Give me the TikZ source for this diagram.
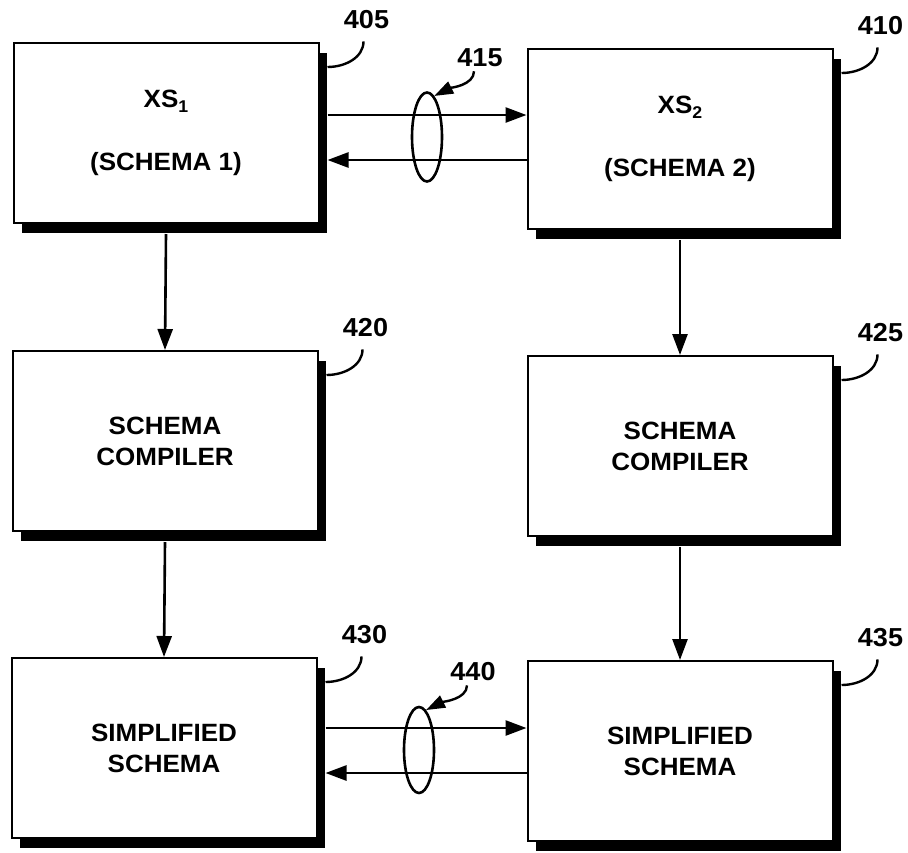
\documentclass[tikz,border=0pt]{standalone}
\usepackage{fontspec}
\setmainfont{Liberation Sans}[FakeStretch=1.04]
\usetikzlibrary{arrows.meta,shapes.geometric,shadows}
\begin{document}
\begin{tikzpicture}[x=1pt,y=-1pt,
  box/.style={draw, line width=2pt, fill=white, minimum width=305pt, minimum height=180pt,
    inner sep=0pt, align=center, font=\fontsize{25}{31}\selectfont\bfseries,
    drop shadow={shadow xshift=8pt, shadow yshift=-10pt, fill=black, opacity=1}},
  lab/.style={inner sep=0pt, font=\fontsize{26}{26}\selectfont\bfseries},
  conn/.style={line width=2.6pt, -{Triangle[length=21pt,width=15pt]}},
  leadarr/.style={line width=2.4pt, -{Triangle[length=19pt,width=13pt]}},
  lead/.style={line width=2.4pt},
  ring/.style={draw, ellipse, line width=2.6pt, inner sep=0pt, minimum width=30pt}]
\fill[white] (0,0) rectangle (908,852);
\useasboundingbox (0,0) rectangle (908,852);

% boxes
\node[box] (b405) at (166,133) {XS\raisebox{-5pt}{\fontsize{17}{17}\selectfont 1}\\[32pt](SCHEMA 1)};
\node[box] (b410) at (680,139) {XS\raisebox{-5pt}{\fontsize{17}{17}\selectfont 2}\\[32pt](SCHEMA 2)};
\node[box] (b420) at (165,441) {SCHEMA\\COMPILER};
\node[box] (b425) at (680,446) {SCHEMA\\COMPILER};
\node[box] (b430) at (164,748) {SIMPLIFIED\\SCHEMA};
\node[box] (b435) at (680,751) {SIMPLIFIED\\SCHEMA};

% reference labels
\foreach \b in {405,410,420,425,430,435}{
  \node[lab] (l\b) at ([shift={(47,-22)}]b\b.north east) {\b};
  \draw[lead] ([shift={(-3,12)}]l\b.south) .. controls +(0,16) and +(18,0) ..
    ([shift={(8,25)}]b\b.north east);
}

% vertical flow
\draw[conn] ([yshift=-10pt]b405.south) -- (b420.north);
\draw[conn] ([yshift=-10pt]b410.south) -- (b425.north);
\draw[conn] ([yshift=-10pt]b420.south) -- (b430.north);
\draw[conn] ([yshift=-10pt]b425.south) -- (b435.north);

% horizontal exchanges
\coordinate (ya) at (0,115);
\coordinate (yb) at (0,160);
\coordinate (yc) at (0,728);
\coordinate (yd) at (0,773);
\coordinate (s405) at ([xshift=8pt]b405.east);
\coordinate (s430) at ([xshift=8pt]b430.east);
\draw[conn] (s405 |- ya) -- (b410.west |- ya);
\draw[conn] (b410.west |- yb) -- (s405 |- yb);
\draw[conn] (s430 |- yc) -- (b435.west |- yc);
\draw[conn] (b435.west |- yd) -- (s430 |- yd);

% rings
\node[ring, minimum height=89pt] (e415) at (427,137) {};
\node[ring, minimum height=86pt] (e440) at (419,750) {};
\node[lab] (l415) at (480,58) {415};
\node[lab] (l440) at (473,672) {440};
\draw[leadarr] ([shift={(-6,4)}]l415.south) .. controls +(0,14) and +(16,-8) .. (e415.80);
\draw[leadarr] ([shift={(-6,4)}]l440.south) .. controls +(0,14) and +(16,-8) .. (e440.80);
\end{tikzpicture}
\end{document}
